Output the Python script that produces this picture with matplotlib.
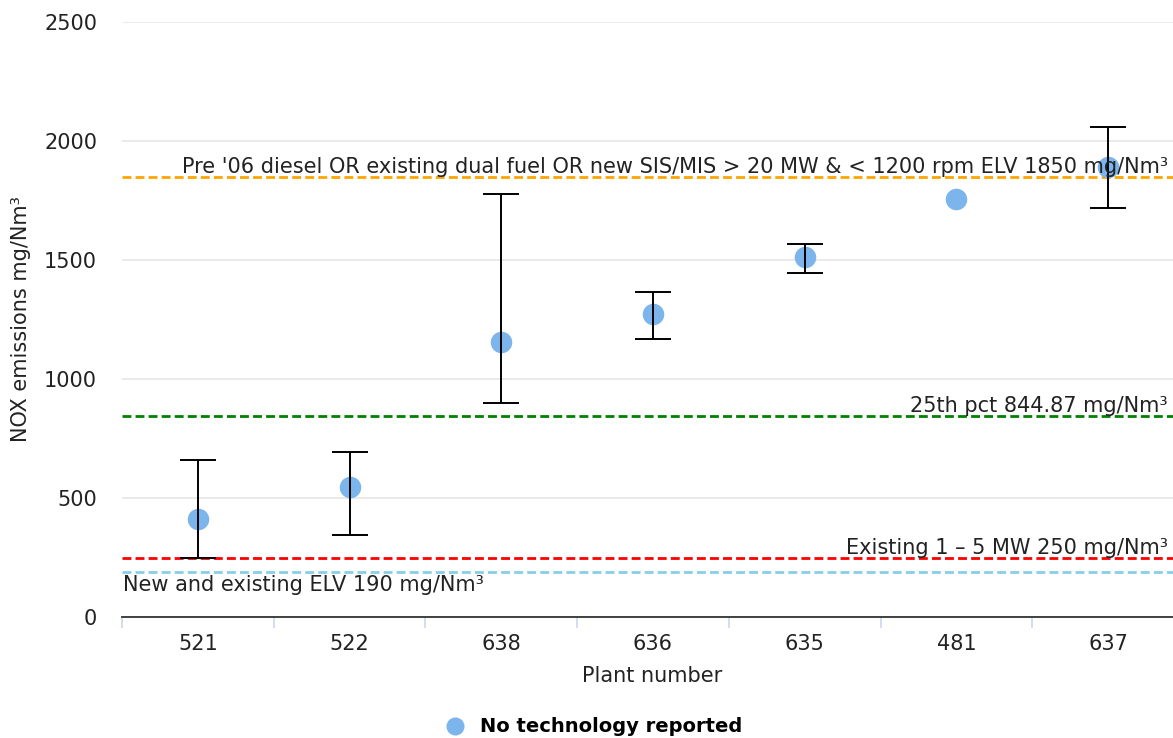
import matplotlib
matplotlib.use("Agg")
import matplotlib.pyplot as plt
from matplotlib.lines import Line2D
import numpy as np

# plants and NOx values (mg/Nm3)
plants = ["521", "522", "638", "636", "635", "481", "637"]
mean_vals = [410, 545, 1155, 1273, 1513, 1757, 1890]
low_vals = [250, 343, 900, 1170, 1445, np.nan, 1720]
high_vals = [660, 693, 1777, 1366, 1567, np.nan, 2060]

# reference levels
ref_values = [1850, 844.87, 250, 190]
ref_labels = ["Pre '06 diesel OR existing dual fuel OR new SIS/MIS > 20 MW & < 1200 rpm ELV 1850 mg/Nm³",
              "25th pct 844.87 mg/Nm³",
              "Existing 1 – 5 MW 250 mg/Nm³",
              "New and existing ELV 190 mg/Nm³"]
ref_colors = ["#ffa500", "#008000", "#ff0000", "#87ceeb"]

plt.rcParams['font.family'] = ['DejaVu Sans']
fs = 15

fig = plt.figure(figsize=(11.73, 7.38), dpi=100)
W, H = 1173.0, 738.0
ax = fig.add_axes([122 / W, 1 - 617 / H, 1062 / W, 595 / H])

x = np.arange(len(plants))
mean = np.array(mean_vals, dtype=float)
low = np.array(low_vals, dtype=float)
high = np.array(high_vals, dtype=float)

# grid
ax.set_ylim(0, 2500)
ax.set_xlim(-0.5, len(plants) - 0.5)
ax.set_yticks(np.arange(0, 2501, 500))
ax.yaxis.grid(True, color="#e6e6e6", linewidth=1.2, zorder=0)
ax.set_axisbelow(True)

# reference lines
for i, (v, lab, c) in enumerate(zip(ref_values, ref_labels, ref_colors)):
    ax.axhline(v, color=c, linewidth=2.0, linestyle=(0, (3.2, 1.5)), zorder=2)
    if i == 3:
        ax.annotate(lab, xy=(0, v), xycoords=("axes fraction", "data"),
                    xytext=(1, -3), textcoords="offset pixels",
                    ha="left", va="top", fontsize=fs, color="#222222", zorder=5)
    else:
        ax.annotate(lab, xy=(1, v), xycoords=("axes fraction", "data"),
                    xytext=(-16, 4), textcoords="offset pixels",
                    ha="right", va="baseline", fontsize=fs, color="#222222", zorder=5)

# points
ax.plot(x, mean, "o", color="#7cb5ec", markersize=15.5, markeredgewidth=0, zorder=3)

# error bars
has_err = ~np.isnan(low)
ax.errorbar(x[has_err], (low[has_err] + high[has_err]) / 2,
            yerr=(high[has_err] - low[has_err]) / 2, fmt="none",
            ecolor="black", elinewidth=1.4, capsize=13, capthick=1.4, zorder=4)

# axes style
for s in ["top", "right", "left"]:
    ax.spines[s].set_visible(False)
ax.spines["bottom"].set_color("#333333")
ax.spines["bottom"].set_linewidth(1.3)
ax.set_xticks(x)
ax.set_xticklabels(plants)
ax.set_xticks(np.arange(-0.5, len(plants)), minor=True)
ax.tick_params(axis="x", which="major", length=0, pad=12, labelsize=fs, labelcolor="#222222")
ax.tick_params(axis="x", which="minor", length=8, color="#ccd6eb", width=1.2)
ax.tick_params(axis="y", length=0, pad=18, labelsize=fs, labelcolor="#222222")

ax.set_ylabel("NOX emissions mg/Nm³", fontsize=fs, color="#222222")
ax.yaxis.set_label_coords(-0.086, 0.5)
ax.set_xlabel("Plant number", fontsize=fs, color="#222222")
ax.xaxis.set_label_coords((652 - 122) / 1062, -0.082)

handle = Line2D([], [], marker="o", linestyle="none", color="#7cb5ec",
                markersize=13, markeredgewidth=0)
fig.legend([handle], ["No technology reported"], loc="center",
           bbox_to_anchor=(589 / W, 1 - 727 / H), frameon=False,
           prop={"weight": "bold", "size": 14}, handletextpad=0.3)

fig.savefig("out.png", dpi=100)
